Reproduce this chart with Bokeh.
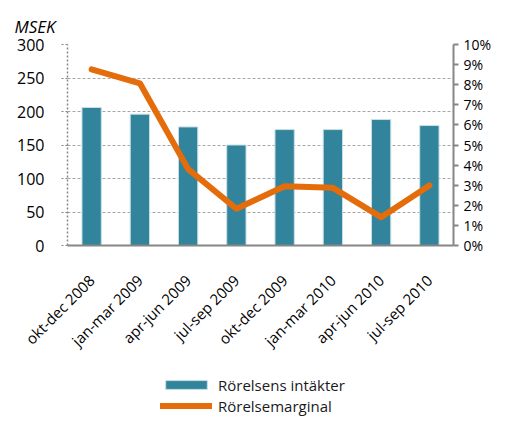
from bokeh.plotting import figure
from bokeh.layouts import column
from bokeh.models import (Range1d, LinearAxis, FixedTicker, NumeralTickFormatter,
                          FactorRange, Legend, LegendItem, ColumnDataSource, Title)
from bokeh.embed import file_html
from bokeh.resources import INLINE

categories = ["okt-dec 2008", "jan-mar 2009", "apr-jun 2009", "jul-sep 2009",
              "okt-dec 2009", "jan-mar 2010", "apr-jun 2010", "jul-sep 2010"]
revenue = [206, 196, 177, 150, 173, 173, 188, 179]
margin = [0.0876, 0.0807, 0.0380, 0.0183, 0.0295, 0.0287, 0.0141, 0.0299]
left_ticks = [0, 50, 100, 150, 200, 250, 300]
right_ticks = [0.0, 0.01, 0.02, 0.03, 0.04, 0.05, 0.06, 0.07, 0.08, 0.09, 0.10]
series_names = ["Rörelsens intäkter", "Rörelsemarginal"]

FONT = "Open Sans"
BAR = "#31849B"
BAR_EDGE = "#c8dfe6"
LINE = "#E46C0A"
AXIS = "#868686"

src = ColumnDataSource(dict(cat=categories, rev=revenue, mar=margin))

p = figure(width=494, height=374,
           x_range=FactorRange(*categories, range_padding=0),
           y_range=Range1d(0, 300), output_backend="svg", toolbar_location=None,
           min_border_left=67, min_border_right=37, min_border_top=44,
           min_border_bottom=129)
p.outline_line_color = None
p.extra_y_ranges = {"pct": Range1d(0, 0.1)}

bars = p.vbar(x="cat", top="rev", width=0.4, source=src, fill_color=BAR,
              line_color=BAR_EDGE, line_width=1)
ln = p.line(x="cat", y="mar", source=src, y_range_name="pct", line_color=LINE,
            line_width=6, line_cap="round", line_join="round")

# left axis
ya = p.yaxis[0]
ya.ticker = FixedTicker(ticks=left_ticks)
ya.axis_line_color = AXIS
ya.axis_line_dash = "2 2"
ya.axis_line_width = 1.5
ya.major_tick_out = 6
ya.major_tick_in = 0
ya.major_tick_line_color = AXIS
ya.major_tick_line_dash = "2 2"
ya.minor_tick_line_color = None
ya.major_label_standoff = 17
ya.major_label_text_font = FONT
ya.major_label_text_font_size = "16px"
ya.major_label_text_color = "#000000"

# right axis
ra = LinearAxis(y_range_name="pct", ticker=FixedTicker(ticks=right_ticks),
                formatter=NumeralTickFormatter(format="0%"))
ra.axis_line_color = AXIS
ra.axis_line_width = 2
ra.major_tick_out = 5
ra.major_tick_in = 0
ra.major_tick_line_color = AXIS
ra.major_tick_line_width = 2
ra.minor_tick_line_color = None
ra.major_label_standoff = 5
ra.major_label_text_font = FONT
ra.major_label_text_font_size = "14px"
ra.major_label_text_color = "#000000"
p.add_layout(ra, "right")

# bottom axis
xa = p.xaxis[0]
xa.axis_line_color = AXIS
xa.axis_line_width = 2
xa.major_tick_line_color = None
xa.minor_tick_line_color = None
xa.major_label_orientation = 0.785398
xa.major_label_standoff = 26
xa.major_label_text_font = FONT
xa.major_label_text_font_size = "15px"
xa.major_label_text_color = "#000000"

p.xgrid.grid_line_color = None
p.ygrid.grid_line_color = "#a6a6a6"
p.ygrid.grid_line_dash = "3 2"
p.ygrid.grid_line_width = 1

t = Title(text="MSEK", align="left", offset=-53, text_font=FONT,
          text_font_size="17px", text_font_style="italic", text_color="#000000",
          standoff=14)
p.add_layout(t, "above")

# legend strip below the chart (same series, hidden, only used for the key)
lg = figure(width=494, height=42, x_range=p.x_range, y_range=p.y_range,
            x_axis_type=None, y_axis_type=None,
            output_backend="svg", toolbar_location=None, min_border=0)
lg.grid.grid_line_color = None
lg.outline_line_color = None
lbar = lg.vbar(x="cat", top="rev", width=0.4, source=src, fill_color=BAR,
               line_color=BAR_EDGE, line_width=1, visible=False)
lline = lg.line(x="cat", y="rev", source=src, line_color=LINE, line_width=6,
                line_cap="round", visible=False)
legend = Legend(items=[LegendItem(label=series_names[0], renderers=[lbar]),
                       LegendItem(label=series_names[1], renderers=[lline])],
                location=(93, 0), orientation="vertical", padding=0, margin=0,
                spacing=0, label_height=21, glyph_height=11, glyph_width=52,
                label_standoff=6, border_line_color=None, background_fill_alpha=0,
                inactive_fill_alpha=0,
                label_text_font=FONT, label_text_font_size="15px",
                label_text_color="#1a1a1a")
lg.add_layout(legend, "center")

open("out.html", "w").write(file_html(column(p, lg, spacing=0), INLINE))
